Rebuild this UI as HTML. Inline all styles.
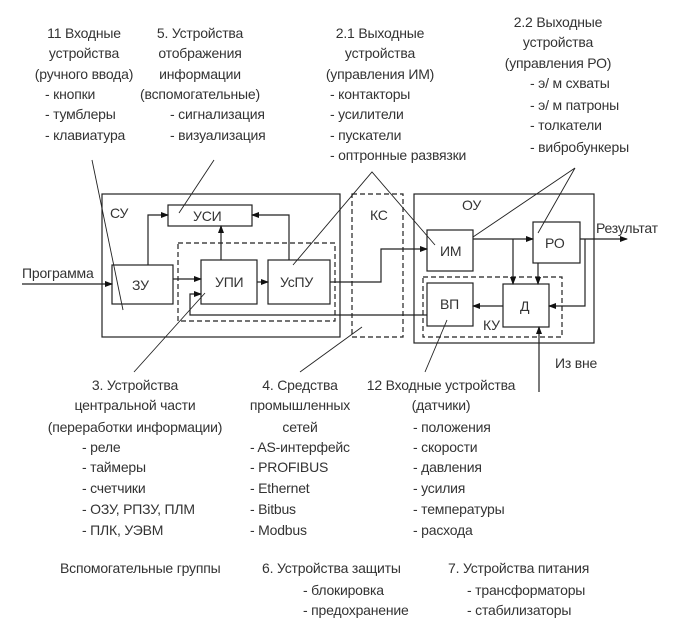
<!DOCTYPE html>
<html><head><meta charset="utf-8"><style>
html,body{margin:0;padding:0;background:#fff;}
svg text{font-family:"Liberation Sans","DejaVu Sans",sans-serif;font-size:14px;fill:#333;letter-spacing:-0.2px;}
</style></head><body>
<svg width="681" height="635" viewBox="0 0 681 635" xmlns="http://www.w3.org/2000/svg">
<defs><marker id="a" markerWidth="8" markerHeight="6" refX="7" refY="3" orient="auto" markerUnits="userSpaceOnUse"><path d="M0,0 L8,3 L0,6 z" fill="#111"/></marker></defs>
<g fill="none" stroke="#222" stroke-width="1.2">
<rect x="102" y="194" width="238" height="143"/>
<rect x="168" y="205" width="84" height="21"/>
<rect x="112" y="265" width="61" height="39"/>
<rect x="201" y="260" width="56" height="44"/>
<rect x="268" y="260" width="62" height="44"/>
<rect x="414" y="194" width="180" height="149"/>
<rect x="427" y="230" width="46" height="41"/>
<rect x="533" y="222" width="47" height="41"/>
<rect x="427" y="283" width="46" height="43"/>
<rect x="503" y="284" width="46" height="43"/>
<g stroke-dasharray="5,3">
<rect x="178" y="243" width="157" height="78"/>
<rect x="352" y="194" width="51" height="143"/>
<rect x="423" y="277" width="139" height="60"/>
</g>
<g marker-end="url(#a)">
<path d="M22,284 H112"/>
<path d="M173,279 H201"/>
<path d="M148,265 V215 H168"/>
<path d="M221,260 V226"/>
<path d="M289,260 V215 H252"/>
<path d="M257,282 H268"/>
<path d="M330,282 H381 V249 H427"/>
<path d="M427,315 H190 V294 H201"/>
<path d="M473,239 H533"/>
<path d="M513,239 V284"/>
<path d="M538,263 V284"/>
<path d="M580,239 H627"/>
<path d="M585,239 V306 H549"/>
<path d="M503,306 H473"/>
<path d="M539,392 V327"/>
</g>
<g stroke-width="0.9">
<path d="M92,160 L123,310"/>
<path d="M214,160 L179,213"/>
<path d="M293,265 L372,172 L435,245"/>
<path d="M473,237 L575,168 L538,233"/>
<path d="M134,372 L205,293"/>
<path d="M300,372 L362,327"/>
<path d="M425,372 L447,320"/>
</g>
</g>
<text x="110" y="218">СУ</text>
<text x="370" y="220">КС</text>
<text x="462" y="210">ОУ</text>
<text x="483" y="330">КУ</text>
<text x="193" y="221" >УСИ</text>
<text x="132" y="290">ЗУ</text>
<text x="215" y="287">УПИ</text>
<text x="280" y="287">УсПУ</text>
<text x="440" y="256">ИМ</text>
<text x="545" y="248">РО</text>
<text x="440" y="309">ВП</text>
<text x="520" y="311">Д</text>
<text x="22" y="278">Программа</text>
<text x="596" y="233">Результат</text>
<text x="555" y="368">Из вне</text>
<g text-anchor="middle">
<text x="84" y="38">11 Входные</text>
<text x="84" y="58">устройства</text>
<text x="84" y="79">(ручного ввода)</text>
<text x="200" y="38">5. Устройства</text>
<text x="200" y="58">отображения</text>
<text x="200" y="79">информации</text>
<text x="200" y="99">(вспомогательные)</text>
<text x="380" y="38">2.1 Выходные</text>
<text x="380" y="58">устройства</text>
<text x="380" y="79">(управления ИМ)</text>
<text x="558" y="27">2.2 Выходные</text>
<text x="558" y="47">устройства</text>
<text x="558" y="68">(управления РО)</text>
<text x="135" y="390">3. Устройства</text>
<text x="135" y="410">центральной части</text>
<text x="135" y="432">(переработки информации)</text>
<text x="300" y="390">4. Средства</text>
<text x="300" y="410">промышленных</text>
<text x="300" y="432">сетей</text>
<text x="441" y="390">12 Входные устройства</text>
<text x="441" y="410">(датчики)</text>
</g>
<text x="45" y="99">- кнопки</text>
<text x="45" y="119">- тумблеры</text>
<text x="45" y="140">- клавиатура</text>
<text x="170" y="119">- сигнализация</text>
<text x="170" y="140">- визуализация</text>
<text x="330" y="99">- контакторы</text>
<text x="330" y="119">- усилители</text>
<text x="330" y="140">- пускатели</text>
<text x="330" y="160">- оптронные развязки</text>
<text x="530" y="88">- э/ м схваты</text>
<text x="530" y="110">- э/ м патроны</text>
<text x="530" y="130">- толкатели</text>
<text x="530" y="152">- вибробункеры</text>
<text x="82" y="452">- реле</text>
<text x="82" y="472">- таймеры</text>
<text x="82" y="493">- счетчики</text>
<text x="82" y="514">- ОЗУ, РПЗУ, ПЛМ</text>
<text x="82" y="535">- ПЛК, УЭВМ</text>
<text x="250" y="452">- AS-интерфейс</text>
<text x="250" y="472">- PROFIBUS</text>
<text x="250" y="493">- Ethernet</text>
<text x="250" y="514">- Bitbus</text>
<text x="250" y="535">- Modbus</text>
<text x="413" y="432">- положения</text>
<text x="413" y="452">- скорости</text>
<text x="413" y="472">- давления</text>
<text x="413" y="493">- усилия</text>
<text x="413" y="514">- температуры</text>
<text x="413" y="535">- расхода</text>
<text x="60" y="573">Вспомогательные группы</text>
<text x="262" y="573">6. Устройства защиты</text>
<text x="303" y="595">- блокировка</text>
<text x="303" y="615">- предохранение</text>
<text x="448" y="573">7. Устройства питания</text>
<text x="467" y="595">- трансформаторы</text>
<text x="467" y="615">- стабилизаторы</text>
</svg>
</body></html>
